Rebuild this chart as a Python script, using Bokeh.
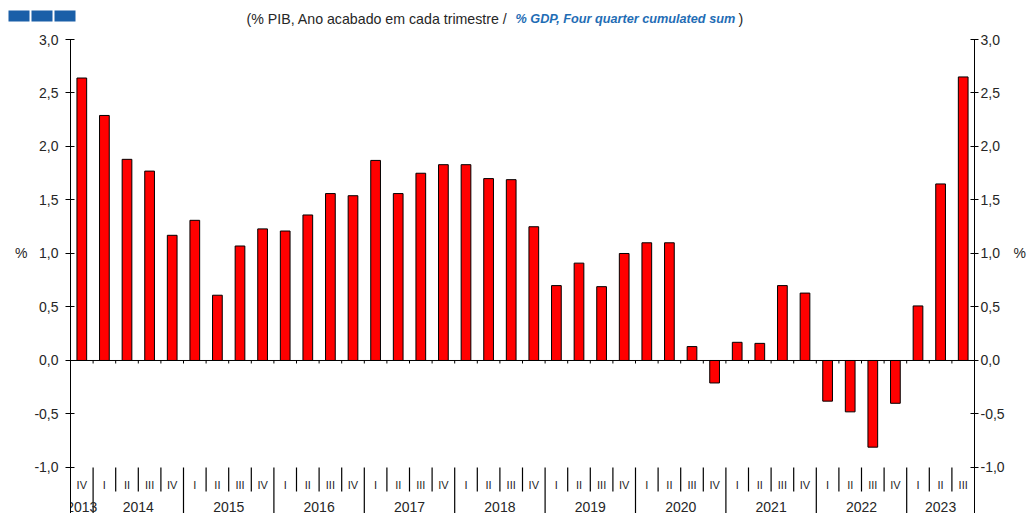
from bokeh.plotting import figure
from bokeh.layouts import column
from bokeh.models import Range1d, LinearAxis, FixedTicker, Span, CustomJSTickFormatter
from bokeh.embed import file_html
from bokeh.resources import INLINE
from bokeh.core.properties import value

# ---- data ----
years = ["2013", "2014", "2015", "2016", "2017", "2018", "2019", "2020", "2021", "2022", "2023"]
year_quarters = [
    ["IV"],
    ["I", "II", "III", "IV"], ["I", "II", "III", "IV"], ["I", "II", "III", "IV"],
    ["I", "II", "III", "IV"], ["I", "II", "III", "IV"], ["I", "II", "III", "IV"],
    ["I", "II", "III", "IV"], ["I", "II", "III", "IV"], ["I", "II", "III", "IV"],
    ["I", "II", "III"],
]
values = [
    2.64,
    2.29, 1.88, 1.77, 1.17,
    1.31, 0.61, 1.07, 1.23,
    1.21, 1.36, 1.56, 1.54,
    1.87, 1.56, 1.75, 1.83,
    1.83, 1.70, 1.69, 1.25,
    0.70, 0.91, 0.69, 1.00,
    1.10, 1.10, 0.13, -0.21,
    0.17, 0.16, 0.70, 0.63,
    -0.38, -0.48, -0.81, -0.40,
    0.51, 1.65, 2.65,
]
y_ticks = [-1.0, -0.5, 0.0, 0.5, 1.0, 1.5, 2.0, 2.5, 3.0]
title_pt = "(% PIB, Ano acabado em cada trimestre / "
title_en = "% GDP, Four quarter cumulated sum"
title_end = ")"

# ---- derived positions ----
quarters = [q for qs in year_quarters for q in qs]
n = len(quarters)
xs = [i + 0.5 for i in range(n)]

year_centers = []
year_bounds = []
k = 0
for qs in year_quarters:
    year_centers.append(k + len(qs) / 2)
    k += len(qs)
    year_bounds.append(k)

W, H = 1030, 513
HEAD = 30
Y_MIN, Y_MAX = -1.43, 3.0
FRAME_L, FRAME_R, FRAME_T, FRAME_B = 70, 974, 39, 513  # canvas px
SY = (FRAME_B - FRAME_T) / (Y_MAX - Y_MIN)


def dy(py):
    return Y_MAX - (py - FRAME_T) / SY


FONT = "Liberation Sans"
TXT = "#262626"

# ---- header (logo + title) ----
head = figure(width=W, height=HEAD, x_range=Range1d(0, W), y_range=Range1d(HEAD, 0),
              output_backend="svg", toolbar_location=None,
              x_axis_location=None, y_axis_location=None,
              min_border_left=0, min_border_right=0, min_border_top=0, min_border_bottom=0)
head.frame_align = False
head.outline_line_color = None
head.grid.visible = False
head.quad(left=[8, 31, 54], right=[29, 52, 75], top=[10, 10, 10], bottom=[21, 21, 21],
          fill_color="#1a5fa8", line_color=None)
head.text(x=[511], y=[18], text=[title_pt], text_font=value(FONT), text_font_size="14.2px",
          text_color=TXT, text_align="right", text_baseline="middle")
head.text(x=[515], y=[18], text=[title_en], text_font=value(FONT), text_font_size="12.7px",
          text_font_style="bold italic", text_color="#1f6db5", text_align="left", text_baseline="middle")
head.text(x=[738], y=[18], text=[title_end], text_font=value(FONT), text_font_size="14.2px",
          text_color=TXT, text_align="left", text_baseline="middle")

# ---- main chart ----
p = figure(
    width=W, height=H - HEAD,
    x_range=Range1d(0, n), y_range=Range1d(Y_MIN, Y_MAX),
    output_backend="svg", toolbar_location=None,
    x_axis_location=None, y_axis_location=None,
    min_border_left=FRAME_L, min_border_right=W - FRAME_R,
    min_border_top=FRAME_T - HEAD, min_border_bottom=H - FRAME_B,
)
p.frame_align = False
p.outline_line_color = None
p.grid.visible = False

fmt = CustomJSTickFormatter(code="return tick.toFixed(1).replace('.', ',');")
pct = CustomJSTickFormatter(code="return '%';")
for side, tout, tin, stand, pstand in (("left", 5, 4, 7, 4), ("right", 4, 4, 2, 6)):
    ax = LinearAxis(ticker=FixedTicker(ticks=y_ticks), formatter=fmt)
    ax.axis_line_color = "black"
    ax.major_tick_line_color = "black"
    ax.minor_tick_line_color = None
    ax.major_tick_out = tout
    ax.major_tick_in = tin
    ax.major_label_standoff = stand
    ax.major_label_text_font = FONT
    ax.major_label_text_font_size = "14px"
    ax.major_label_text_color = TXT
    p.add_layout(ax, side)
    ax2 = LinearAxis(ticker=FixedTicker(ticks=[1.0]), formatter=pct)
    ax2.axis_line_color = None
    ax2.major_tick_line_color = None
    ax2.minor_tick_line_color = None
    ax2.major_tick_out = 0
    ax2.major_tick_in = 0
    ax2.major_label_standoff = pstand
    ax2.major_label_text_font = FONT
    ax2.major_label_text_font_size = "14px"
    ax2.major_label_text_color = TXT
    p.add_layout(ax2, side)

# zero line with small ticks
p.add_layout(Span(location=0, dimension="width", line_color="black", line_width=1))
bx = list(range(1, n))
p.segment(x0=bx, y0=[0] * len(bx), x1=bx, y1=[-3 / SY] * len(bx), line_color="black", line_width=1)

# bars
p.vbar(x=xs, top=values, bottom=0, width=0.43, fill_color="#ff0000", line_color="black", line_width=1)

# category axis at bottom
y_sep_top = -1.0
q_sep_bot = dy(491)
long_b = [b for b in year_bounds[:-1]]
short_b = [b for b in range(1, n) if b not in long_b]
p.segment(x0=short_b, y0=[y_sep_top] * len(short_b), x1=short_b, y1=[q_sep_bot] * len(short_b),
          line_color="black", line_width=1.2)
p.segment(x0=long_b, y0=[y_sep_top] * len(long_b), x1=long_b, y1=[Y_MIN] * len(long_b),
          line_color="black", line_width=1.2)

p.text(x=xs, y=[dy(484)] * n, text=quarters, text_font=value(FONT), text_font_size="11px",
       text_align="center", text_baseline="middle", text_color=TXT)
p.text(x=year_centers, y=[dy(506)] * len(years), text=years, text_font=value(FONT), text_font_size="14px",
       text_align="center", text_baseline="middle", text_color=TXT)

layout = column(head, p, spacing=0)
open("out.html", "w").write(file_html(layout, INLINE))
